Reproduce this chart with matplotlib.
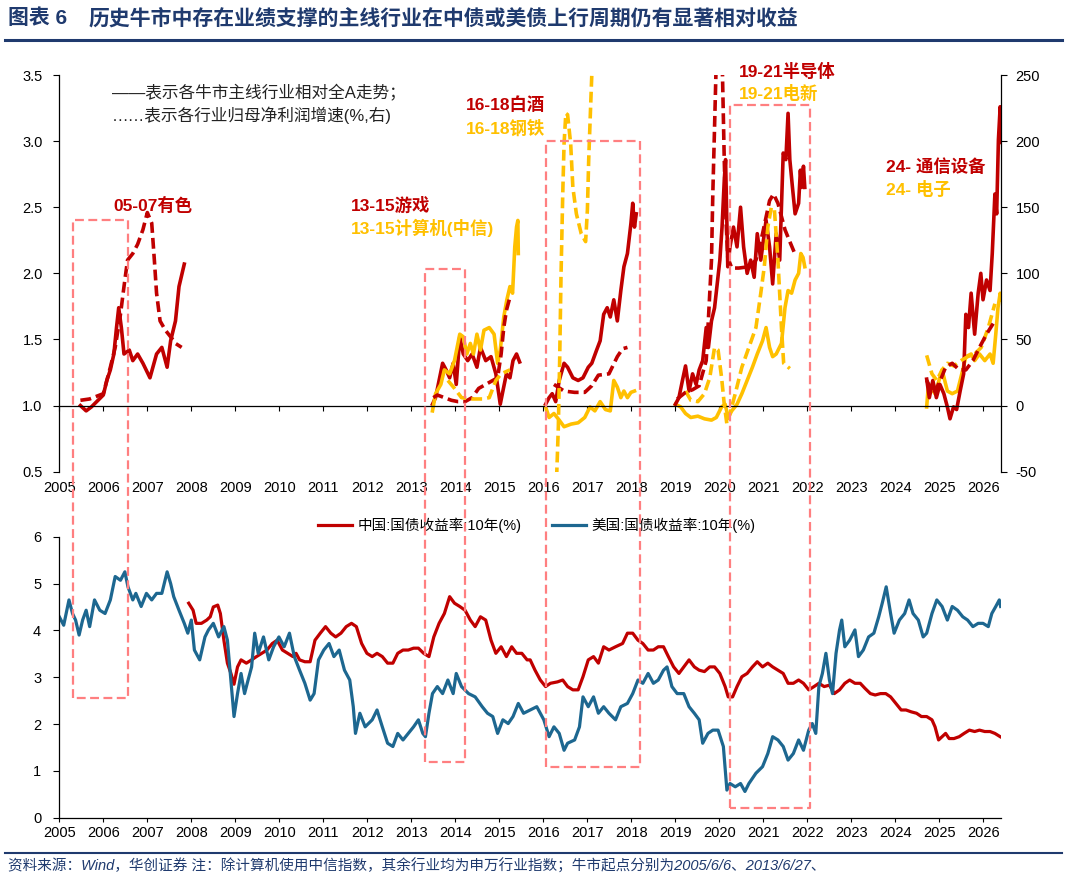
import matplotlib
matplotlib.use("Agg")
import matplotlib.pyplot as plt
from matplotlib.lines import Line2D

plt.rcParams['font.family'] = ['Liberation Sans', 'Noto Sans CJK SC']
plt.rcParams['axes.unicode_minus'] = False

RED = '#C00000'
YEL = '#FFC000'
BLUE = '#1D6790'
NAVY = '#1F3A6E'
BOX = '#FF7F80'

# ---------------- 上图: 主线行业相对全A (左轴) ----------------
ys_x = [2005.48, 2005.61, 2005.73, 2005.88, 2006.00, 2006.08, 2006.16, 2006.24, 2006.30, 2006.35, 2006.41, 2006.47,
        2006.59, 2006.67, 2006.78, 2006.90, 2007.06, 2007.21, 2007.33, 2007.45, 2007.53, 2007.64, 2007.72, 2007.84]
ys_rel = [1.00, 0.96, 0.99, 1.04, 1.08, 1.19, 1.27, 1.39, 1.59, 1.74, 1.59, 1.39,
          1.42, 1.34, 1.39, 1.32, 1.21, 1.39, 1.44, 1.29, 1.49, 1.64, 1.90, 2.07]

yx_x = [2013.48, 2013.55, 2013.63, 2013.71, 2013.79, 2013.87, 2013.95, 2014.02, 2014.10, 2014.18, 2014.28, 2014.38,
        2014.49, 2014.57, 2014.69, 2014.81, 2014.92, 2015.02, 2015.08, 2015.16, 2015.24, 2015.31, 2015.39, 2015.46]
yx_rel = [1.01, 1.06, 1.19, 1.32, 1.27, 1.21, 1.32, 1.16, 1.52, 1.39, 1.34, 1.39,
          1.29, 1.44, 1.34, 1.37, 1.24, 1.01, 1.11, 1.24, 1.21, 1.34, 1.39, 1.33]

jsj_x = [2013.48, 2013.55, 2013.67, 2013.75, 2013.87, 2013.98, 2014.10, 2014.18, 2014.26, 2014.34, 2014.41, 2014.49,
         2014.57, 2014.65, 2014.77, 2014.88, 2014.96, 2015.02, 2015.10, 2015.17, 2015.24, 2015.30, 2015.35, 2015.39,
         2015.42, 2015.43]
jsj_rel = [0.96, 1.09, 1.16, 1.27, 1.24, 1.34, 1.54, 1.52, 1.39, 1.47, 1.39, 1.54,
           1.42, 1.57, 1.59, 1.54, 1.32, 1.42, 1.67, 1.80, 1.90, 1.85, 2.20, 2.35,
           2.40, 2.15]

bj_x = [2016.05, 2016.13, 2016.20, 2016.28, 2016.36, 2016.47, 2016.55, 2016.67, 2016.79, 2016.90, 2017.02, 2017.10,
        2017.21, 2017.29, 2017.37, 2017.45, 2017.52, 2017.60, 2017.68, 2017.76, 2017.83, 2017.91, 2017.99, 2018.03,
        2018.07, 2018.11]
bj_rel = [1.01, 1.06, 1.09, 1.03, 1.19, 1.32, 1.29, 1.21, 1.19, 1.21, 1.29, 1.32,
          1.42, 1.49, 1.69, 1.74, 1.67, 1.80, 1.64, 1.87, 2.05, 2.15, 2.38, 2.53,
          2.35, 2.45]

gt_x = [2016.05, 2016.13, 2016.24, 2016.36, 2016.47, 2016.63, 2016.79, 2016.94, 2017.06, 2017.17, 2017.29, 2017.41,
        2017.52, 2017.60, 2017.68, 2017.76, 2017.83, 2017.91, 2017.99, 2018.07]
gt_rel = [0.99, 0.91, 0.94, 0.89, 0.84, 0.86, 0.87, 0.91, 0.99, 0.96, 1.03, 0.97,
          0.96, 1.19, 1.14, 1.06, 1.11, 1.06, 1.10, 1.11]

bdt_x = [2019.00, 2019.08, 2019.16, 2019.23, 2019.31, 2019.39, 2019.47, 2019.54, 2019.62, 2019.70, 2019.75, 2019.82,
         2019.89, 2019.96, 2020.01, 2020.06, 2020.11, 2020.14, 2020.19, 2020.24, 2020.32, 2020.40, 2020.48, 2020.55,
         2020.63, 2020.71, 2020.79, 2020.86, 2020.94, 2021.06, 2021.14, 2021.21, 2021.29, 2021.37, 2021.45, 2021.51,
         2021.56, 2021.60, 2021.66, 2021.72, 2021.80, 2021.84, 2021.87, 2021.91, 2021.94]
bdt_rel = [1.01, 1.06, 1.19, 1.30, 1.11, 1.24, 1.16, 1.27, 1.34, 1.59, 1.44, 1.64,
           1.74, 1.95, 2.10, 2.35, 2.70, 2.86, 2.05, 2.20, 2.35, 2.20, 2.50, 2.20,
           2.00, 2.10, 1.97, 2.30, 2.10, 2.40, 2.20, 1.92, 2.30, 2.10, 2.91, 2.86,
           3.21, 2.86, 2.65, 2.45, 2.53, 2.78, 2.65, 2.81, 2.65]

dx_x = [2019.00, 2019.12, 2019.23, 2019.35, 2019.51, 2019.66, 2019.82, 2019.93, 2020.05, 2020.13, 2020.20, 2020.28,
        2020.40, 2020.51, 2020.63, 2020.75, 2020.86, 2020.98, 2021.06, 2021.14, 2021.21, 2021.29, 2021.41, 2021.49,
        2021.56, 2021.64, 2021.72, 2021.80, 2021.85, 2021.90, 2021.94]
dx_rel = [1.01, 0.99, 0.94, 0.91, 0.92, 0.90, 0.89, 0.91, 0.99, 1.01, 0.91, 0.96,
          1.01, 1.09, 1.19, 1.29, 1.39, 1.49, 1.59, 1.44, 1.37, 1.39, 1.47, 1.74,
          1.87, 1.85, 1.95, 2.00, 2.15, 2.12, 2.05]

tx_x = [2024.71, 2024.77, 2024.85, 2024.93, 2025.01, 2025.10, 2025.18, 2025.24, 2025.32, 2025.39, 2025.47, 2025.55,
        2025.60, 2025.66, 2025.72, 2025.80, 2025.88, 2025.94, 2025.99, 2026.07, 2026.15, 2026.20, 2026.26, 2026.30,
        2026.34, 2026.38, 2026.40]
tx_rel = [1.20, 1.06, 1.19, 1.06, 1.16, 1.09, 0.99, 0.90, 0.99, 0.97, 1.11, 1.24,
          1.69, 1.59, 1.85, 1.54, 1.85, 2.00, 1.80, 1.95, 1.87, 2.15, 2.60, 2.45,
          3.01, 3.26, 2.99]

dz_x = [2024.71, 2024.75, 2024.90, 2025.06, 2025.18, 2025.29, 2025.41, 2025.53, 2025.60, 2025.72, 2025.80, 2025.91,
        2026.03, 2026.15, 2026.22, 2026.28, 2026.33, 2026.38, 2026.40]
dz_rel = [0.99, 1.16, 1.09, 1.27, 1.11, 1.09, 1.11, 1.27, 1.37, 1.39, 1.34, 1.39,
          1.34, 1.39, 1.32, 1.54, 1.74, 1.85, 1.80]

# ---------------- 上图: 归母净利润增速 (右轴, %) ----------------
ys_np_x = [2005.48, 2005.69, 2006.00, 2006.16, 2006.27, 2006.39, 2006.47, 2006.55, 2006.67, 2006.78, 2006.90, 2007.00,
           2007.10, 2007.16, 2007.21, 2007.29, 2007.41, 2007.53, 2007.64, 2007.78]
ys_np = [4, 5, 9, 29, 44, 69, 90, 110, 115, 122, 133, 146,
         138, 110, 85, 64, 57, 52, 47, 44]

yx_np_x = [2013.50, 2013.59, 2013.75, 2013.91, 2014.06, 2014.22, 2014.38, 2014.53, 2014.69, 2014.85, 2014.96, 2015.04,
           2015.10, 2015.16, 2015.24]
yx_np = [6, 8, 6, 4, 3, 3, 6, 13, 16, 19, 21, 39, 59, 72, 82]

jsj_np_x = [2013.83, 2013.98, 2014.14, 2014.38, 2014.61, 2014.77, 2014.92, 2015.04, 2015.24]
jsj_np = [19, 13, 6, 5, 5, 6, 19, 24, 27]

bj_np_x = [2016.24, 2016.47, 2016.71, 2016.94, 2017.10, 2017.25, 2017.49, 2017.68, 2017.80, 2017.91]
bj_np = [16, 11, 10, 10, 15, 23, 24, 37, 43, 44]

gt_np_x = [2016.30, 2016.34, 2016.37, 2016.40, 2016.44, 2016.47, 2016.51, 2016.55, 2016.62, 2016.67, 2016.75, 2016.86,
           2016.96, 2017.00, 2017.03, 2017.07, 2017.10, 2017.11]
gt_np = [-55, -16, 34, 97, 160, 198, 221, 220, 198, 165, 145, 130,
         124, 148, 186, 223, 250, 261]

bdt_np_x = [2019.04, 2019.23, 2019.39, 2019.54, 2019.70, 2019.74, 2019.82, 2019.85, 2019.89, 2019.92, 2019.99, 2020.07,
            2020.11, 2020.14, 2020.19, 2020.28, 2020.44, 2020.67, 2020.83, 2020.98, 2021.14, 2021.23, 2021.33, 2021.49,
            2021.60, 2021.70]
bdt_np = [5, 10, 12, 15, 34, 59, 110, 160, 211, 250, 300, 250,
          186, 148, 112, 104, 104, 105, 110, 130, 155, 160, 153, 133,
          124, 116]

dx_np_x = [2019.23, 2019.35, 2019.51, 2019.66, 2019.78, 2019.89, 2019.97, 2020.05, 2020.11, 2020.17, 2020.24, 2020.36,
           2020.51, 2020.67, 2020.83, 2020.94, 2021.02, 2021.10, 2021.18, 2021.25, 2021.33, 2021.41, 2021.46, 2021.60]
dx_np = [11, 4, 3, 9, 21, 44, 42, 21, 1, -14, -6, 9,
         29, 44, 59, 85, 105, 135, 150, 148, 110, 59, 32, 28]

tx_np_x = [2024.71, 2024.87, 2025.02, 2025.14, 2025.29, 2025.45, 2025.60, 2025.76, 2025.91, 2026.07, 2026.22]
tx_np = [19, 9, 19, 29, 32, 27, 27, 34, 44, 54, 62]

dz_np_x = [2024.71, 2024.83, 2024.94, 2025.06, 2025.18, 2025.33, 2025.49, 2025.64, 2025.80, 2025.95, 2026.11, 2026.26]
dz_np = [38, 24, 19, 27, 32, 30, 34, 37, 39, 44, 59, 77]

# ---------------- 下图: 10年期国债收益率 ----------------
us_x = [2005.00, 2005.10, 2005.22, 2005.30, 2005.37, 2005.45, 2005.53, 2005.61, 2005.69, 2005.80, 2005.92, 2006.04,
        2006.16, 2006.27, 2006.39, 2006.49, 2006.56, 2006.67, 2006.74, 2006.86, 2006.98, 2007.10, 2007.21, 2007.33,
        2007.45, 2007.53, 2007.60, 2007.72, 2007.84, 2007.92, 2008.00, 2008.07, 2008.19, 2008.31, 2008.39, 2008.50,
        2008.62, 2008.74, 2008.82, 2008.91, 2008.97, 2009.05, 2009.13, 2009.21, 2009.29, 2009.37, 2009.44, 2009.52,
        2009.64, 2009.76, 2009.87, 2009.99, 2010.11, 2010.23, 2010.34, 2010.46, 2010.58, 2010.70, 2010.79, 2010.89,
        2011.01, 2011.13, 2011.24, 2011.36, 2011.48, 2011.60, 2011.68, 2011.73, 2011.83, 2011.95, 2012.11, 2012.22,
        2012.34, 2012.46, 2012.58, 2012.69, 2012.81, 2012.93, 2013.05, 2013.16, 2013.26, 2013.32, 2013.40, 2013.48,
        2013.59, 2013.71, 2013.83, 2013.95, 2014.02, 2014.14, 2014.30, 2014.45, 2014.61, 2014.73, 2014.85, 2014.96,
        2015.08, 2015.20, 2015.31, 2015.43, 2015.55,
        2015.70, 2015.85, 2016.01, 2016.13, 2016.24, 2016.36, 2016.47, 2016.55, 2016.71, 2016.82,
        2016.90, 2017.02, 2017.14, 2017.25, 2017.37, 2017.49, 2017.64, 2017.76, 2017.91, 2018.03,
        2018.15, 2018.26, 2018.38, 2018.50, 2018.61, 2018.73, 2018.81, 2018.92, 2019.04, 2019.19,
        2019.31, 2019.43, 2019.54, 2019.62, 2019.74, 2019.85, 2019.97, 2020.09, 2020.14, 2020.17,
        2020.24, 2020.36, 2020.48, 2020.58, 2020.67, 2020.83, 2020.98, 2021.10, 2021.21, 2021.33,
        2021.45, 2021.56, 2021.68, 2021.80, 2021.91, 2022.03, 2022.11, 2022.19, 2022.26, 2022.34,
        2022.42, 2022.50, 2022.57, 2022.65, 2022.73, 2022.78, 2022.85, 2022.96, 2023.08, 2023.16,
        2023.27, 2023.39, 2023.51, 2023.62, 2023.70, 2023.79, 2023.89, 2023.97, 2024.09, 2024.21,
        2024.31, 2024.40, 2024.52, 2024.63, 2024.71, 2024.83, 2024.94, 2025.06, 2025.18, 2025.29,
        2025.41, 2025.53, 2025.64, 2025.76, 2025.88, 2025.99, 2026.11, 2026.19, 2026.28, 2026.36,
        2026.39]
us_y = [4.29, 4.11, 4.65, 4.36, 4.22, 3.90, 4.22, 4.43, 4.08, 4.65, 4.43, 4.36,
        4.65, 5.15, 5.07, 5.25, 4.93, 4.65, 4.79, 4.51, 4.79, 4.65, 4.79, 4.79,
        5.25, 5.00, 4.72, 4.43, 4.15, 3.94, 4.22, 3.58, 3.37, 3.86, 4.01, 4.15,
        3.86, 4.08, 3.79, 2.80, 2.16, 2.65, 3.08, 2.65, 2.94, 3.22, 3.94, 3.51,
        3.86, 3.37, 3.65, 3.86, 3.65, 3.94, 3.44, 3.15, 2.87, 2.51, 2.65, 3.37,
        3.58, 3.72, 3.44, 3.58, 3.15, 2.94, 2.37, 1.80, 2.23, 1.94, 2.09, 2.30,
        1.94, 1.59, 1.52, 1.80, 1.66, 1.80, 1.94, 2.09, 1.80, 1.73, 2.23, 2.65,
        2.80, 2.65, 2.94, 2.65, 3.08, 2.80, 2.65, 2.58, 2.37, 2.23, 2.16, 1.80,
        2.09, 2.01, 2.16, 2.44, 2.23,
        2.30, 2.37, 2.09, 1.73, 1.94, 1.80, 1.44, 1.59, 1.66, 1.94,
        2.58, 2.37, 2.58, 2.23, 2.37, 2.23, 2.09, 2.37, 2.44, 2.65,
        2.94, 2.87, 3.08, 2.87, 2.94, 3.15, 3.22, 2.80, 2.65, 2.65,
        2.37, 2.23, 2.09, 1.59, 1.80, 1.87, 1.87, 1.52, 0.95, 0.59,
        0.73, 0.66, 0.73, 0.56, 0.73, 0.95, 1.09, 1.37, 1.73, 1.66,
        1.52, 1.23, 1.37, 1.66, 1.44, 1.87, 2.01, 1.80, 2.80, 3.08,
        3.51, 2.94, 2.65, 3.51, 4.01, 4.22, 3.65, 3.79, 4.01, 3.44,
        3.58, 3.86, 3.94, 4.29, 4.58, 4.93, 4.36, 3.94, 4.22, 4.36,
        4.65, 4.36, 4.22, 3.86, 3.94, 4.36, 4.65, 4.51, 4.22, 4.51,
        4.43, 4.29, 4.22, 4.08, 4.15, 4.15, 4.08, 4.36, 4.51, 4.65,
        4.51]

cn_x = [2007.94, 2008.04, 2008.11, 2008.23, 2008.35, 2008.43, 2008.50, 2008.60, 2008.66, 2008.74, 2008.82, 2008.90,
        2008.97, 2009.05, 2009.13, 2009.25, 2009.37, 2009.48, 2009.60, 2009.72, 2009.84, 2009.95, 2010.07, 2010.19,
        2010.31, 2010.38, 2010.46, 2010.58, 2010.70, 2010.81, 2010.93, 2011.05, 2011.17, 2011.28, 2011.40, 2011.52,
        2011.64, 2011.75, 2011.87, 2011.99, 2012.11, 2012.22, 2012.34, 2012.46, 2012.58, 2012.69, 2012.81, 2012.93,
        2013.05, 2013.16, 2013.28, 2013.40, 2013.51, 2013.63, 2013.75, 2013.87, 2013.98, 2014.10, 2014.22, 2014.34,
        2014.45, 2014.57, 2014.69, 2014.81, 2014.92, 2015.04, 2015.16, 2015.28, 2015.39, 2015.51, 2015.63,
        2015.70, 2015.81, 2015.93, 2016.05, 2016.16, 2016.32, 2016.44, 2016.55, 2016.67, 2016.79,
        2016.90, 2017.02, 2017.14, 2017.25, 2017.37, 2017.49, 2017.64, 2017.80, 2017.91, 2018.03,
        2018.15, 2018.26, 2018.38, 2018.50, 2018.61, 2018.73, 2018.84, 2018.96, 2019.08, 2019.19,
        2019.31, 2019.43, 2019.54, 2019.66, 2019.78, 2019.89, 2020.01, 2020.13, 2020.20, 2020.30,
        2020.40, 2020.51, 2020.63, 2020.75, 2020.86, 2020.98, 2021.10, 2021.21, 2021.33, 2021.45,
        2021.56, 2021.68, 2021.80, 2021.91, 2022.03, 2022.15, 2022.26, 2022.38, 2022.50, 2022.61,
        2022.73, 2022.85, 2022.96, 2023.08, 2023.20, 2023.31, 2023.43, 2023.54, 2023.66, 2023.78,
        2023.89, 2024.01, 2024.13, 2024.24, 2024.36, 2024.48, 2024.59, 2024.71, 2024.83, 2024.90,
        2024.98, 2025.06, 2025.14, 2025.22, 2025.33, 2025.45, 2025.56, 2025.68, 2025.80, 2025.91,
        2026.03, 2026.15, 2026.26, 2026.38]
cn_y = [4.58, 4.43, 4.15, 4.15, 4.22, 4.29, 4.50, 4.54, 4.36, 3.79, 3.30, 3.08,
        2.85, 3.22, 3.37, 3.30, 3.37, 3.44, 3.51, 3.58, 3.72, 3.79, 3.58, 3.51,
        3.44, 3.51, 3.37, 3.33, 3.33, 3.79, 3.94, 4.08, 3.94, 3.86, 3.94, 4.08,
        4.15, 4.08, 3.72, 3.51, 3.44, 3.51, 3.44, 3.30, 3.30, 3.51, 3.58, 3.58,
        3.62, 3.62, 3.51, 3.44, 3.86, 4.15, 4.36, 4.72, 4.58, 4.51, 4.43, 4.22,
        4.08, 4.29, 4.22, 3.79, 3.51, 3.65, 3.44, 3.65, 3.51, 3.51, 3.37,
        3.37, 3.15, 2.94, 2.80, 2.87, 2.90, 2.94, 2.80, 2.73, 2.73,
        3.01, 3.37, 3.44, 3.30, 3.65, 3.58, 3.65, 3.72, 3.94, 3.94,
        3.79, 3.72, 3.58, 3.58, 3.65, 3.65, 3.44, 3.22, 3.08, 3.22,
        3.37, 3.22, 3.15, 3.12, 3.22, 3.22, 3.08, 2.80, 2.58, 2.58,
        2.80, 3.01, 3.08, 3.22, 3.33, 3.22, 3.30, 3.22, 3.15, 3.08,
        2.87, 2.87, 2.94, 2.87, 2.73, 2.80, 2.87, 2.80, 2.83, 2.65,
        2.73, 2.87, 2.94, 2.87, 2.87, 2.76, 2.65, 2.62, 2.65, 2.65,
        2.58, 2.44, 2.30, 2.30, 2.26, 2.23, 2.16, 2.16, 2.09, 1.94,
        1.66, 1.73, 1.80, 1.69, 1.69, 1.73, 1.80, 1.87, 1.84, 1.87,
        1.84, 1.84, 1.80, 1.73]

# 牛市区间框: 起止年份, 上图顶端(左轴), 下图底端(收益率)
box_x0 = [2005.32, 2013.32, 2016.05, 2020.23]
box_x1 = [2006.56, 2014.22, 2018.20, 2022.05]
box_top = [2.40, 2.03, 3.00, 3.27]
box_bot = [2.55, 1.20, 1.08, 0.20]

years = list(range(2005, 2027))

fig = plt.figure(figsize=(10.66, 8.83), dpi=100)
ax1 = fig.add_axes([0.05563, 0.46580, 0.88386, 0.44926])
ax2 = ax1.twinx()
ax3 = fig.add_axes([0.05563, 0.07395, 0.88386, 0.31823])

solid = dict(lw=2.6, solid_joinstyle='round')
dash = dict(lw=2.6, ls=(0, (3, 1.4)), dash_capstyle='butt')

ax1.plot(ys_x, ys_rel, color=RED, **solid)
ax1.plot(yx_x, yx_rel, color=RED, **solid)
ax1.plot(jsj_x, jsj_rel, color=YEL, **solid)
ax1.plot(bj_x, bj_rel, color=RED, **solid)
ax1.plot(gt_x, gt_rel, color=YEL, **solid)
ax1.plot(dx_x, dx_rel, color=YEL, **solid)
ax1.plot(bdt_x, bdt_rel, color=RED, **solid)
ax1.plot(dz_x, dz_rel, color=YEL, **solid)
ax1.plot(tx_x, tx_rel, color=RED, **solid)

ax2.plot(ys_np_x, ys_np, color=RED, **dash)
ax2.plot(yx_np_x, yx_np, color=RED, **dash)
ax2.plot(jsj_np_x, jsj_np, color=YEL, **dash)
ax2.plot(bj_np_x, bj_np, color=RED, **dash)
ax2.plot(gt_np_x, gt_np, color=YEL, **dash)
ax2.plot(dx_np_x, dx_np, color=YEL, **dash)
ax2.plot(bdt_np_x, bdt_np, color=RED, **dash)
ax2.plot(dz_np_x, dz_np, color=YEL, **dash)
ax2.plot(tx_np_x, tx_np, color=RED, **dash)

xmin, xmax = 2005.0, 2026.41
ax1.set_xlim(xmin, xmax)
ax1.set_ylim(0.5, 3.5)
ax2.set_ylim(-50, 250)
ax1.set_yticks([0.5, 1.0, 1.5, 2.0, 2.5, 3.0, 3.5])
ax1.set_yticklabels(['%.1f' % v for v in [0.5, 1.0, 1.5, 2.0, 2.5, 3.0, 3.5]])
ax2.set_yticks(range(-50, 251, 50))
ax1.set_xticks(years)
ax1.spines['bottom'].set_position(('data', 1.0))
ax1.tick_params(axis='x', direction='out', length=3.5, labelbottom=False, width=0.8)
ax1.tick_params(axis='y', direction='out', length=4, pad=8, labelsize=10.5, width=0.8)
ax2.tick_params(axis='y', direction='out', length=4, pad=6, labelsize=10.5, width=0.8)
for s in ['top', 'right']:
    ax1.spines[s].set_visible(False)
for s in ['top', 'left', 'bottom']:
    ax2.spines[s].set_visible(False)
for sp in [ax1.spines['left'], ax1.spines['bottom'], ax2.spines['right']]:
    sp.set_linewidth(0.9)

sec = ax1.secondary_xaxis(0)
sec.set_xticks(years)
sec.tick_params(length=0, pad=7, labelsize=10.5)
sec.spines['bottom'].set_visible(False)

# 文字注释
ax1.text(0.0558, 0.9546, '——表示各牛市主线行业相对全A走势；', transform=ax1.transAxes,
         fontsize=12, va='center', ha='left', color='#222222')
ax1.text(0.0558, 0.8992, '……表示各行业归母净利润增速(%,右)', transform=ax1.transAxes,
         fontsize=12, va='center', ha='left', color='#222222')
labels = [('05-07有色', 0.0576, 0.6705, RED),
          ('13-15游戏', 0.3092, 0.6723, RED),
          ('13-15计算机(中信)', 0.3092, 0.6143, YEL),
          ('16-18白酒', 0.4312, 0.9244, RED),
          ('16-18钢铁', 0.4312, 0.8664, YEL),
          ('19-21半导体', 0.7216, 1.0083, RED),
          ('19-21电新', 0.7216, 0.9546, YEL),
          ('24- 通信设备', 0.8769, 0.7689, RED),
          ('24- 电子', 0.8769, 0.7126, YEL)]
for txt, xf, yf, c in labels:
    ax1.text(xf, yf, txt, transform=ax1.transAxes, fontsize=12.5, fontweight='bold',
             color=c, va='center', ha='left')

# ---------------- 下图 ----------------
ax3.plot(cn_x, cn_y, color=RED, lw=2.3, label='中国:国债收益率:10年(%)')
ax3.plot(us_x, us_y, color=BLUE, lw=2.3, label='美国:国债收益率:10年(%)')
ax3.set_xlim(xmin, xmax)
ax3.set_ylim(0, 6)
ax3.set_yticks(range(0, 7))
ax3.set_xticks(years)
ax3.tick_params(axis='x', direction='out', length=3, pad=3, labelsize=10.5, width=0.8)
ax3.tick_params(axis='y', direction='out', length=4, pad=9, labelsize=10.5, width=0.8)
for s in ['top', 'right']:
    ax3.spines[s].set_visible(False)
for s in ['left', 'bottom']:
    ax3.spines[s].set_linewidth(0.9)
ax3.legend(loc='center', bbox_to_anchor=(0.507, 1.0416), ncol=2, frameon=False,
           fontsize=10.5, handlelength=2.3, handletextpad=0.4, columnspacing=2.1)

# 跨两图的牛市区间虚线框
to_fig = fig.transFigure.inverted()
for x0, x1, t, b in zip(box_x0, box_x1, box_top, box_bot):
    p_top0 = to_fig.transform(ax1.transData.transform((x0, t)))
    p_top1 = to_fig.transform(ax1.transData.transform((x1, t)))
    p_bot0 = to_fig.transform(ax3.transData.transform((x0, b)))
    p_bot1 = to_fig.transform(ax3.transData.transform((x1, b)))
    xs = [p_bot0[0], p_top0[0], p_top1[0], p_bot1[0], p_bot0[0]]
    ys = [p_bot0[1], p_top0[1], p_top1[1], p_bot1[1], p_bot0[1]]
    fig.add_artist(Line2D(xs, ys, transform=fig.transFigure, color=BOX, lw=1.6,
                          ls=(0, (4, 2)), zorder=5))

# 标题与来源
fig.text(0.0075, 0.9796, '图表 6', fontsize=15, fontweight='bold', color=NAVY, va='center', ha='left')
fig.text(0.0826, 0.9796, '历史牛市中存在业绩支撑的主线行业在中债或美债上行周期仍有显著相对收益',
         fontsize=15, fontweight='bold', color=NAVY, va='center', ha='left')
fig.add_artist(Line2D([0.005, 0.996], [0.9547, 0.9547], transform=fig.transFigure, color=NAVY, lw=2.2))
fig.add_artist(Line2D([0.005, 0.996], [0.0340, 0.0340], transform=fig.transFigure, color=NAVY, lw=1.5))
fig.text(0.0075, 0.0193, '资料来源：Wind，华创证券 注：除计算机使用中信指数，其余行业均为申万行业指数；牛市起点分别为2005/6/6、2013/6/27、',
         fontsize=10.5, color=NAVY, va='center', ha='left', style='italic')

fig.savefig('out.png', dpi=100)
